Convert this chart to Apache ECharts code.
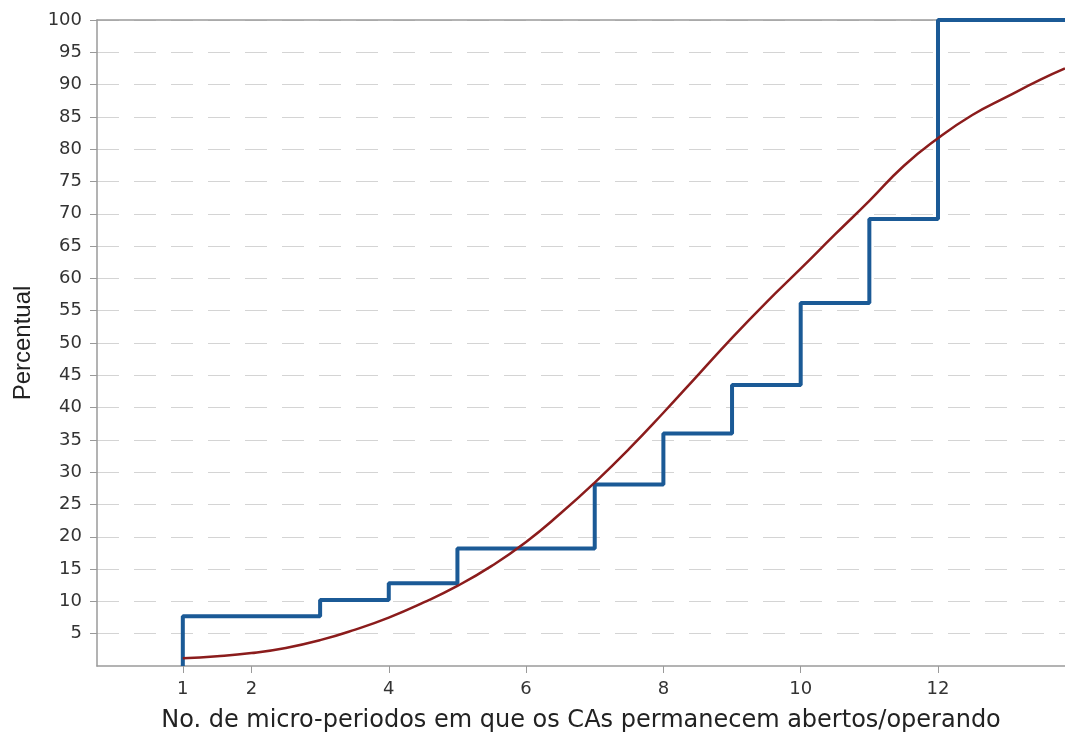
<!DOCTYPE html>
<html>
<head>
<meta charset="utf-8">
<script src="https://cdn.jsdelivr.net/npm/echarts@6/dist/echarts.min.js"></script>
<style>
html, body { margin: 0; padding: 0; background: #fff; }
#chart { width: 1065px; height: 738px; }
</style>
</head>
<body>
<div id="chart"></div>
<script>
// empirical step distribution (blue)
var stepX = [1, 1, 3, 4, 5, 7, 8, 9, 10, 11, 12, 13.85];
var stepPct = [0, 7.7, 10.2, 12.8, 18.2, 28.1, 36.0, 43.5, 56.2, 69.2, 100, 100];

// fitted curve (dark red)
var curveX = [1, 1.5, 2, 2.5, 3, 3.5, 4, 4.5, 5, 5.5, 6, 6.5, 7, 7.5, 8, 8.5, 9, 9.5, 10, 10.5, 11, 11.5, 12, 12.5, 13, 13.5, 13.85];
var curvePct = [1.2, 1.5, 2.0, 2.8, 4.0, 5.6, 7.5, 9.8, 12.4, 15.5, 19.2, 23.6, 28.4, 33.6, 39.2, 45.0, 50.8, 56.3, 61.5, 66.8, 72.0, 77.4, 81.7, 85.3, 88.1, 90.8, 92.5];

var xTicks = [1, 2, 4, 6, 8, 10, 12];
var yTicks = [5, 10, 15, 20, 25, 30, 35, 40, 45, 50, 55, 60, 65, 70, 75, 80, 85, 90, 95, 100];

var zip = function (xs, ys) {
	var out = [];
	for (var i = 0; i < xs.length; i++) out.push([xs[i], ys[i]]);
	return out;
};

var myChart = echarts.init(document.getElementById('chart'));
var wide = 'DejaVu Sans, sans-serif';
var arial = 'Liberation Sans, Arial, sans-serif';

var option = {
	animation: false,
	grid: { left: 97, top: 20, right: 0, bottom: 72 },
	xAxis: [{
		type: 'value',
		min: -0.25,
		max: 13.85,
		name: 'No. de micro-periodos em que os CAs permanecem abertos/operando',
		nameLocation: 'middle',
		nameGap: 43,
		nameTextStyle: { color: '#222', fontSize: 24, fontFamily: wide },
		axisLine: { show: true, onZero: false, lineStyle: { color: '#9a9a9a', width: 1.5 } },
		axisTick: { show: true, customValues: xTicks, length: 7, lineStyle: { color: '#9a9a9a' } },
		axisLabel: { customValues: xTicks, margin: 14, color: '#333', fontSize: 18, fontFamily: wide },
		splitLine: { show: false }
	}, {
		// top frame line at 100
		type: 'value',
		position: 'top',
		min: -0.25,
		max: 13.85,
		axisLine: { show: true, onZero: false, lineStyle: { color: '#9a9a9a', width: 1.5 } },
		axisTick: { show: false },
		axisLabel: { show: false },
		splitLine: { show: false }
	}],
	yAxis: {
		type: 'value',
		min: 0,
		max: 100,
		interval: 5,
		name: 'Percentual',
		nameLocation: 'middle',
		nameGap: 62,
		nameTextStyle: { color: '#222', fontSize: 24, fontFamily: arial },
		axisLine: { show: true, onZero: false, lineStyle: { color: '#9a9a9a', width: 1.5 } },
		axisTick: { show: true, customValues: yTicks, length: 7, lineStyle: { color: '#9a9a9a' } },
		axisLabel: {
			customValues: yTicks,
			margin: 15,
			color: '#333',
			fontSize: 18,
			fontFamily: wide
		},
		splitLine: { show: true, lineStyle: { color: '#d4d4d4', width: 1.2, type: [22, 15] } }
	},
	series: [{
		type: 'line',
		step: 'end',
		data: zip(stepX, stepPct),
		showSymbol: false,
		lineStyle: { color: '#1b5a96', width: 4 },
		z: 3
	}, {
		type: 'line',
		smooth: true,
		data: zip(curveX, curvePct),
		showSymbol: false,
		lineStyle: { color: '#8b1c1c', width: 2.5 },
		z: 4
	}]
};

myChart.setOption(option);
window.onresize = myChart.resize;
</script>
</body>
</html>
